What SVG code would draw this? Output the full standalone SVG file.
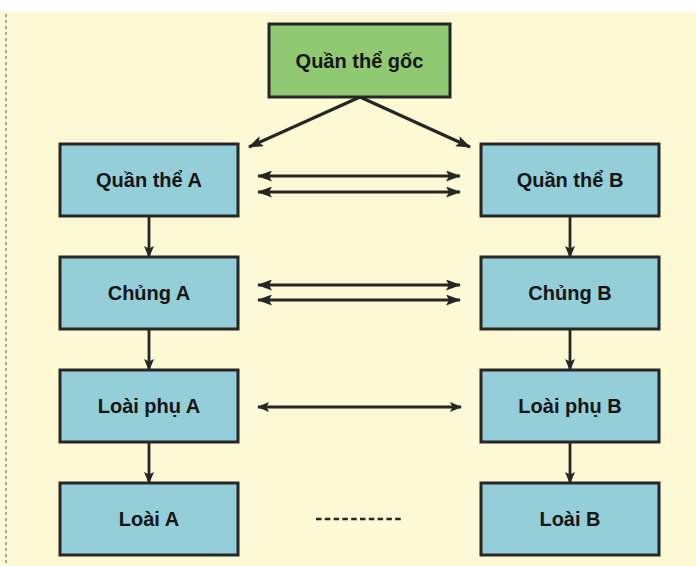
<svg xmlns="http://www.w3.org/2000/svg" width="696" height="566" viewBox="0 0 696 566">
<style>
.box{fill:#94ced8;stroke:#262626;stroke-width:3}
.root{fill:#8fca72;stroke:#262626;stroke-width:3}
.lbl{font-family:"Liberation Sans",Arial,sans-serif;font-weight:bold;font-size:20px;fill:#151515;text-anchor:middle}
.arr{stroke:#262626;stroke-width:3.2;fill:none}
.thin{stroke:#262626;stroke-width:2.8;fill:none}
</style>
<defs>
<marker id="ah" markerUnits="userSpaceOnUse" markerWidth="15" markerHeight="11" refX="14" refY="5.5" orient="auto-start-reverse">
<path d="M0,0 L15,5.5 L0,11 L3,5.5 Z" fill="#262626"/>
</marker>
<marker id="ahs" markerUnits="userSpaceOnUse" markerWidth="12" markerHeight="10" refX="11" refY="5" orient="auto-start-reverse">
<path d="M0,0 L12,5 L0,10 L2.5,5 Z" fill="#262626"/>
</marker>
</defs>
<rect x="0" y="0" width="696" height="566" fill="#ffffff"/>
<rect x="0" y="12" width="696" height="554" fill="#fef9d5"/>
<line x1="6" y1="14" x2="6" y2="566" stroke="#555" stroke-width="1" stroke-dasharray="3,3"/>
<g id="connectors">
<line class="arr" x1="360" y1="97" x2="249" y2="147" marker-end="url(#ah)"/>
<line class="arr" x1="360" y1="97" x2="470" y2="147" marker-end="url(#ah)"/>
<line class="thin" x1="258" y1="176" x2="460" y2="176" marker-start="url(#ah)" marker-end="url(#ah)"/>
<line class="thin" x1="258" y1="192" x2="460" y2="192" marker-start="url(#ah)" marker-end="url(#ah)"/>
<line class="thin" x1="258" y1="285" x2="460" y2="285" marker-start="url(#ah)" marker-end="url(#ah)"/>
<line class="thin" x1="258" y1="300" x2="460" y2="300" marker-start="url(#ah)" marker-end="url(#ah)"/>
<line class="thin" x1="258" y1="407" x2="461" y2="407" marker-start="url(#ahs)" marker-end="url(#ahs)"/>
<line x1="316" y1="519" x2="403" y2="519" stroke="#262626" stroke-width="2.5" stroke-dasharray="5.5,3.3"/>
<line class="thin" x1="149" y1="216" x2="149" y2="257" marker-end="url(#ahs)"/>
<line class="thin" x1="149" y1="329" x2="149" y2="370" marker-end="url(#ahs)"/>
<line class="thin" x1="149" y1="442" x2="149" y2="483" marker-end="url(#ahs)"/>
<line class="thin" x1="570" y1="216" x2="570" y2="257" marker-end="url(#ahs)"/>
<line class="thin" x1="570" y1="329" x2="570" y2="370" marker-end="url(#ahs)"/>
<line class="thin" x1="570" y1="442" x2="570" y2="483" marker-end="url(#ahs)"/>
</g>
<g id="n-goc"><rect class="root" x="269" y="24" width="181" height="73"/><text class="lbl" x="359.5" y="68">Quần thể gốc</text></g>
<g id="n-qta"><rect class="box" x="60" y="144" width="178" height="72"/><text class="lbl" x="149" y="187">Quần thể A</text></g>
<g id="n-qtb"><rect class="box" x="481" y="144" width="178" height="72"/><text class="lbl" x="570" y="187">Quần thể B</text></g>
<g id="n-ca"><rect class="box" x="60" y="257" width="178" height="72"/><text class="lbl" x="149" y="300">Chủng A</text></g>
<g id="n-cb"><rect class="box" x="481" y="257" width="178" height="72"/><text class="lbl" x="570" y="300">Chủng B</text></g>
<g id="n-lpa"><rect class="box" x="60" y="370" width="178" height="72"/><text class="lbl" x="149" y="413">Loài phụ A</text></g>
<g id="n-lpb"><rect class="box" x="481" y="370" width="178" height="72"/><text class="lbl" x="570" y="413">Loài phụ B</text></g>
<g id="n-la"><rect class="box" x="60" y="483" width="178" height="72"/><text class="lbl" x="149" y="526">Loài A</text></g>
<g id="n-lb"><rect class="box" x="481" y="483" width="178" height="72"/><text class="lbl" x="570" y="526">Loài B</text></g>
</svg>
